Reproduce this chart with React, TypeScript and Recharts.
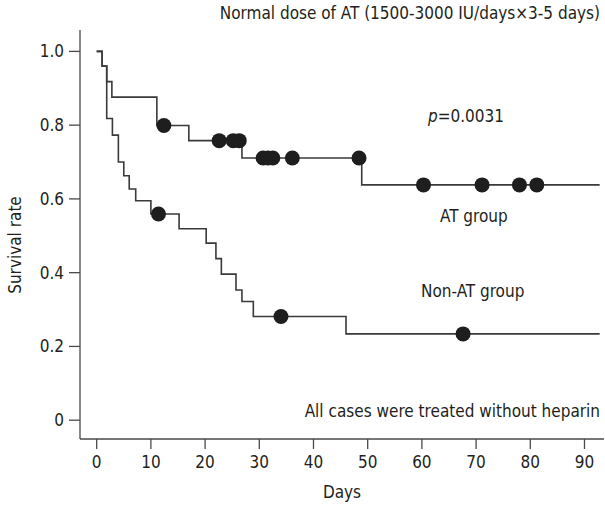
import React from 'react';
import { ComposedChart, Line, Scatter, XAxis, YAxis } from 'recharts';

const atDays = [0, 1.0, 1.85, 2.8, 11.1, 17.0, 26.8, 48.9, 92.8];
const atSurv = [1.0, 0.96, 0.918, 0.876, 0.799, 0.758, 0.711, 0.638, 0.638];
const nonAtDays = [0, 1.0, 1.85, 2.9, 4.0, 5.0, 6.0, 7.2, 10.0, 15.2, 20.2, 22.0, 23.0, 25.7, 26.8, 28.9, 46.0, 92.8];
const nonAtSurv = [1.0, 0.96, 0.818, 0.773, 0.7, 0.663, 0.627, 0.595, 0.559, 0.519, 0.48, 0.438, 0.396, 0.353, 0.322, 0.281, 0.234, 0.234];
const atCensored = [12.4, 22.6, 25.2, 26.3, 30.7, 31.6, 32.5, 36.1, 48.4, 60.3, 71.1, 78.0, 81.2];
const nonAtCensored = [11.4, 34.0, 67.6];
const xTicks = [0, 10, 20, 30, 40, 50, 60, 70, 80, 90];
const yTicks = [0, 0.2, 0.4, 0.6, 0.8, 1.0];

const toSeries = (days: number[], surv: number[]) => days.map((d, i) => ({ day: d, s: surv[i] }));
const survAt = (days: number[], surv: number[], t: number) => {
  let v = surv[0];
  for (let i = 0; i < days.length; i++) if (days[i] <= t) v = surv[i];
  return v;
};
const toCensor = (cens: number[], days: number[], surv: number[]) =>
  cens.map((d) => ({ day: d, s: survAt(days, surv, d) }));

const atData = toSeries(atDays, atSurv);
const nonAtData = toSeries(nonAtDays, nonAtSurv);
const atCens = toCensor(atCensored, atDays, atSurv);
const nonAtCens = toCensor(nonAtCensored, nonAtDays, nonAtSurv);

const FONT = "'Liberation Sans Narrow', 'DejaVu Sans Condensed', 'Roboto', sans-serif";
const TXT = '#231f20';
const AX = '#4a4a4a';

const Dot = (props: any) => <circle cx={props.cx} cy={props.cy} r={7.5} fill="#1e1e1e" />;

const lbl = (style: React.CSSProperties): React.CSSProperties => ({
  position: 'absolute',
  fontFamily: FONT,
  fontSize: 17,
  color: TXT,
  lineHeight: 1,
  whiteSpace: 'nowrap',
  ...style,
});

export default function App() {
  return (
    <div style={{ position: 'absolute', left: 0, top: 0, width: 605, height: 507, background: '#fff' }}>
      <ComposedChart width={605} height={507} margin={{ top: 30, right: 1, bottom: 38, left: 0 }}>
        <XAxis
          dataKey="day"
          type="number"
          domain={[-3.08, 93.6]}
          ticks={xTicks}
          allowDataOverflow
          height={30}
          tickSize={10}
          tickMargin={7}
          stroke={AX}
          strokeWidth={1.3}
          tick={{ fontSize: 17, fill: TXT, fontFamily: FONT }}
        />
        <YAxis
          dataKey="s"
          type="number"
          domain={[-0.051, 1.058]}
          ticks={yTicks}
          allowDataOverflow
          width={80}
          tickSize={11}
          tickMargin={5}
          stroke={AX}
          strokeWidth={1.3}
          tickFormatter={(v: number) => (v === 0 ? '0' : v.toFixed(1))}
          tick={{ fontSize: 17, fill: TXT, fontFamily: FONT }}
        />
        <Line data={atData} dataKey="s" type="stepAfter" stroke="#3a3a3a" strokeWidth={1.6} dot={false} isAnimationActive={false} />
        <Line data={nonAtData} dataKey="s" type="stepAfter" stroke="#3a3a3a" strokeWidth={1.6} dot={false} isAnimationActive={false} />
        <Scatter data={atCens} dataKey="s" shape={Dot} isAnimationActive={false} />
        <Scatter data={nonAtCens} dataKey="s" shape={Dot} isAnimationActive={false} />
      </ComposedChart>
      <div style={lbl({ right: 5, top: 5 })}>Normal dose of AT (1500-3000 IU/days×3-5 days)</div>
      <div style={lbl({ left: 428, top: 108 })}><i>p</i>=0.0031</div>
      <div style={lbl({ left: 440, top: 208 })}>AT group</div>
      <div style={lbl({ left: 421, top: 283 })}>Non-AT group</div>
      <div style={lbl({ right: 5, top: 403 })}>All cases were treated without heparin</div>
      <div style={lbl({ left: 342, top: 484, transform: 'translateX(-50%)' })}>Days</div>
      <div style={lbl({ left: 15, top: 245, transform: 'translate(-50%, -50%) rotate(-90deg)' })}>Survival rate</div>
    </div>
  );
}
